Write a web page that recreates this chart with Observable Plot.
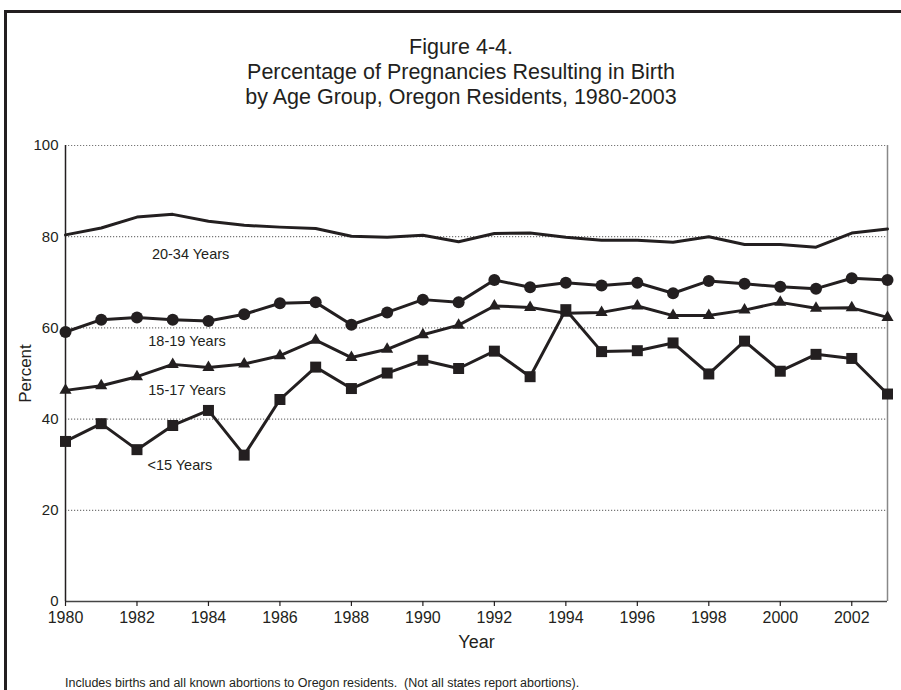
<!DOCTYPE html>
<html>
<head>
<meta charset="utf-8">
<script src="https://cdn.jsdelivr.net/npm/d3@7"></script>
<script src="https://cdn.jsdelivr.net/npm/@observablehq/plot@0.6"></script>
<style>
  html, body { margin: 0; padding: 0; background: #fff; }
  body { width: 901px; height: 690px; position: relative; overflow: hidden; font-family: "Liberation Sans", Arial, sans-serif; color: #231f20; }
  #frame { position: absolute; left: 4px; top: 10px; width: 910px; height: 700px; border-left: 3px solid #231f20; border-top: 3px solid #231f20; }
  #title { position: absolute; left: 0; top: 35px; width: 922px; text-align: center; font-size: 21.5px; line-height: 25px; }
  #chart { position: absolute; left: 0; top: 0; }
  #note { position: absolute; left: 65px; top: 676px; font-size: 12.5px; white-space: nowrap; }
</style>
</head>
<body>
<div id="frame"></div>
<div id="chart"></div>
<div id="title">Figure 4-4.<br>Percentage of Pregnancies Resulting in Birth<br>by Age Group, Oregon Residents, 1980-2003</div>
<div id="note">Includes births and all known abortions to Oregon residents.&nbsp; (Not all states report abortions).</div>
<script>
const years = [1980,1981,1982,1983,1984,1985,1986,1987,1988,1989,1990,1991,1992,1993,1994,1995,1996,1997,1998,1999,2000,2001,2002,2003];
const age20to34 = [80.4,81.9,84.3,84.9,83.4,82.5,82.1,81.8,80.1,79.9,80.3,78.9,80.7,80.8,79.9,79.2,79.2,78.8,80.0,78.3,78.3,77.7,80.8,81.7];
const age18to19 = [59.1,61.8,62.3,61.8,61.5,63.0,65.4,65.6,60.7,63.4,66.2,65.6,70.5,68.9,69.9,69.3,69.9,67.6,70.3,69.7,69.0,68.6,70.9,70.5];
const age15to17 = [46.3,47.3,49.3,52.0,51.3,52.1,53.9,57.3,53.5,55.3,58.5,60.6,64.8,64.5,63.2,63.4,64.8,62.7,62.7,63.9,65.6,64.3,64.4,62.3];
const under15   = [35.1,39.0,33.3,38.6,41.9,32.1,44.3,51.4,46.7,50.1,52.9,51.1,54.9,49.3,64.0,54.8,55.0,56.7,49.9,57.1,50.5,54.2,53.3,45.5];

const seriesNames = ["20-34 Years", "18-19 Years", "15-17 Years", "<15 Years"];
const labelYears  = [1983.5, 1983.4, 1983.4, 1983.2];
const labelValues = [76.1, 57.0, 46.4, 29.9];

const yTicks = [0, 20, 40, 60, 80, 100];
const gridValues = [20, 40, 60, 80, 100];
const xTicks = [1980,1982,1984,1986,1988,1990,1992,1994,1996,1998,2000,2002];

const toRows = (vals, name) => years.map((y, i) => ({year: y, value: vals[i], series: name}));
const s2034 = toRows(age20to34, seriesNames[0]);
const s1819 = toRows(age18to19, seriesNames[1]);
const s1517 = toRows(age15to17, seriesNames[2]);
const s15   = toRows(under15, seriesNames[3]);
const labels = seriesNames.map((n, i) => ({name: n, year: labelYears[i], value: labelValues[i]}));

const ink = "#231f20";
const chart = Plot.plot({
  width: 901,
  height: 690,
  marginLeft: 65,
  marginRight: 14,
  marginTop: 145,
  marginBottom: 89,
  style: {background: "transparent", fontFamily: "'Liberation Sans', Arial, sans-serif", color: ink, overflow: "visible"},
  x: {domain: [1980, 2003]},
  y: {domain: [0, 100]},
  marks: [
    Plot.ruleY(gridValues, {stroke: "#777", strokeWidth: 1.2, strokeDasharray: "1.2,1.8"}),
    Plot.ruleY([0], {stroke: "#444", strokeWidth: 1.5}),
    Plot.ruleX([2003], {stroke: "#888", strokeWidth: 1.5}),
    Plot.ruleX([1980], {stroke: ink, strokeWidth: 1.5}),
    Plot.axisX({ticks: xTicks, tickFormat: d => String(d), tickSize: 5, tickPadding: 5, fontSize: 16, stroke: ink, strokeWidth: 1.2, label: null}),
    Plot.axisY({ticks: yTicks, tickSize: 0, tickPadding: 7, fontSize: 15, label: null}),
    Plot.text(["Year"], {frameAnchor: "bottom", dy: 46, fontSize: 18, fill: ink}),
    Plot.text(["Percent"], {frameAnchor: "left", textAnchor: "middle", dx: -40, rotate: -90, fontSize: 17, fill: ink}),
    Plot.line(s2034, {x: "year", y: "value", stroke: ink, strokeWidth: 3}),
    Plot.line(s1819, {x: "year", y: "value", stroke: ink, strokeWidth: 3}),
    Plot.dot(s1819, {x: "year", y: "value", symbol: "circle", r: 6, fill: ink, stroke: "none"}),
    Plot.line(s1517, {x: "year", y: "value", stroke: ink, strokeWidth: 3}),
    Plot.dot(s1517, {x: "year", y: "value", symbol: "triangle", r: 4.5, fill: ink, stroke: "none"}),
    Plot.line(s15, {x: "year", y: "value", stroke: ink, strokeWidth: 3}),
    Plot.dot(s15, {x: "year", y: "value", symbol: "square", r: 6.2, fill: ink, stroke: "none"}),
    Plot.text(labels, {x: "year", y: "value", text: "name", fontSize: 14.5, fill: ink})
  ]
});
document.getElementById("chart").appendChild(chart);
</script>
</body>
</html>
